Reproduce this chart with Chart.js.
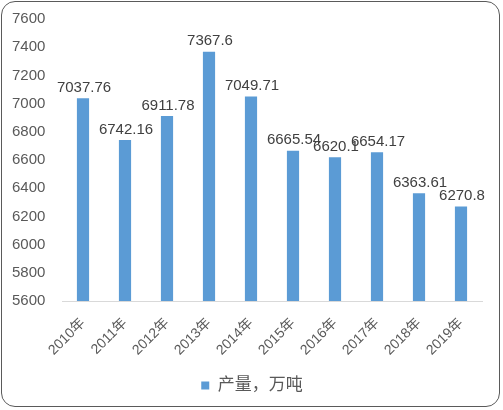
<!DOCTYPE html>
<html>
<head>
<meta charset="utf-8">
<script src="https://cdn.jsdelivr.net/npm/chart.js@4"></script>
<style>
    html, body { margin: 0; padding: 0; background: #fff; }
    #wrap { position: relative; width: 503px; height: 410px; }
    #frame {
        position: absolute; left: 1px; top: 1px;
        width: 499px; height: 406px;
        border: 1.5px solid #5a5a5a; border-radius: 14px;
        box-sizing: border-box; pointer-events: none;
    }
    canvas { position: absolute; left: 0; top: 0; }
</style>
</head>
<body>
<div id="wrap">
    <canvas id="prodChart" width="503" height="410"></canvas>
    <div id="frame"></div>
</div>
<script>
// Chart data
const years = ['2010年', '2011年', '2012年', '2013年', '2014年', '2015年', '2016年', '2017年', '2018年', '2019年'];
const output = [7037.76, 6742.16, 6911.78, 7367.6, 7049.71, 6665.54, 6620.1, 6654.17, 6363.61, 6270.8];
const seriesName = '产量，万吨';

const FONT = '"Liberation Sans", "Noto Sans CJK SC", sans-serif';

// Value labels above each bar
const valueLabels = {
    id: 'valueLabels',
    afterDatasetsDraw(chart) {
        const ctx = chart.ctx;
        const meta = chart.getDatasetMeta(0);
        ctx.save();
        ctx.font = '15px ' + FONT;
        ctx.fillStyle = '#404040';
        ctx.textAlign = 'center';
        ctx.textBaseline = 'bottom';
        meta.data.forEach((bar, i) => {
            ctx.fillText(String(output[i]), bar.x + 1, bar.y - 3);
        });
        ctx.restore();
    }
};

// Nudge the legend so it sits centred on the whole canvas
const legendShift = {
    id: 'legendShift',
    beforeDraw(chart) {
        const lg = chart.legend;
        if (lg && !lg._shifted) {
            lg.left += 5;
            lg.right += 5;
            lg._shifted = true;
        }
    }
};

new Chart(document.getElementById('prodChart').getContext('2d'), {
    type: 'bar',
    data: {
        labels: years,
        datasets: [{
            label: seriesName,
            data: output,
            backgroundColor: '#5b9bd5',
            borderWidth: 0,
            categoryPercentage: 1,
            barPercentage: 0.29
        }]
    },
    options: {
        responsive: false,
        animation: false,
        devicePixelRatio: 1,
        layout: {
            padding: { top: 19, right: 21, left: 12, bottom: 6 }
        },
        plugins: {
            legend: {
                position: 'bottom',
                labels: {
                    color: '#595959',
                    font: { family: FONT, size: 17 },
                    boxWidth: 8,
                    boxHeight: 8,
                    padding: 6
                }
            },
            tooltip: { enabled: false }
        },
        scales: {
            x: {
                grid: { display: false },
                border: { color: '#d9d9d9', width: 1 },
                ticks: {
                    color: '#595959',
                    font: { family: FONT, size: 14 },
                    minRotation: 45,
                    maxRotation: 45,
                    padding: 6
                },
                afterFit(scale) { scale.height = 70; }
            },
            y: {
                min: 5600,
                max: 7600,
                grid: { display: false, drawTicks: false },
                border: { display: false },
                ticks: {
                    stepSize: 200,
                    color: '#595959',
                    font: { family: FONT, size: 15 },
                    padding: 2,
                    crossAlign: 'far',
                    callback: (v) => String(v)
                },
                afterFit(scale) { scale.width = 50; }
            }
        }
    },
    plugins: [valueLabels, legendShift]
});
</script>
</body>
</html>
